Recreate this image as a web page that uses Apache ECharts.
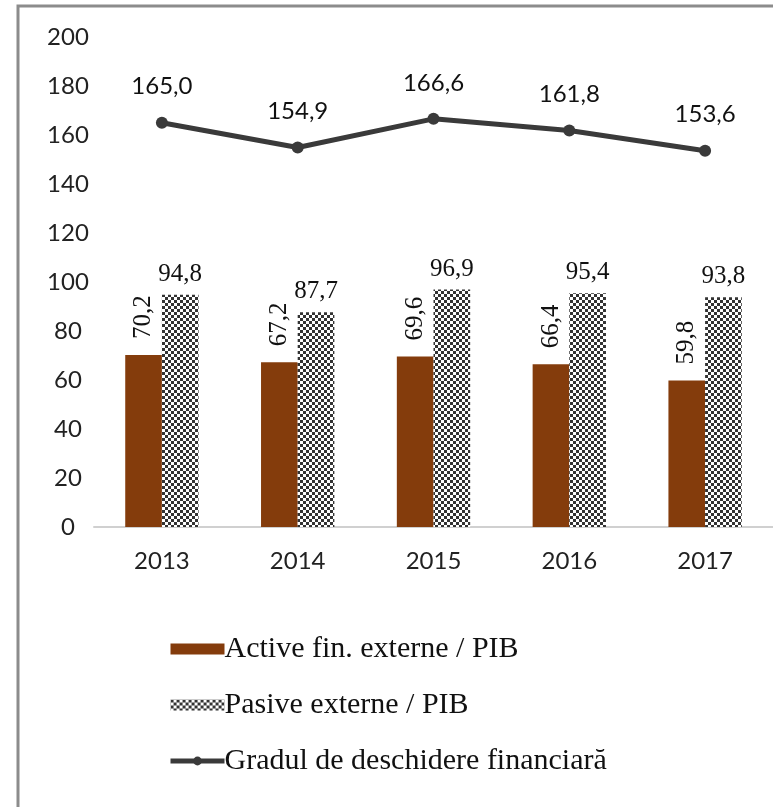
<!DOCTYPE html>
<html><head><meta charset="utf-8">
<script src="https://cdn.jsdelivr.net/npm/echarts@6/dist/echarts.min.js"></script>
<style>html,body{margin:0;padding:0;background:#fff}#c{width:773px;height:807px}</style>
</head><body><div id="c"></div>
<script>
const categories = ['2013','2014','2015','2016','2017'];
const activeValues = [70.2, 67.2, 69.6, 66.4, 59.8];
const pasiveValues = [94.8, 87.7, 96.9, 95.4, 93.8];
const gradValues = [165.0, 154.9, 166.6, 161.8, 153.6];
const yTicks = {min: 0, max: 200, interval: 20};
const seriesNames = ['Active fin. externe / PIB', 'Pasive externe / PIB', 'Gradul de deschidere financiară'];

const pat = document.createElement('canvas');
pat.width = 6; pat.height = 6;
const pc = pat.getContext('2d');
pc.fillStyle = '#fff'; pc.fillRect(0,0,6,6);
pc.fillStyle = '#333'; pc.fillRect(0,0,3,3); pc.fillRect(3,3,3,3);

const fmt = p => p.value.toFixed(1).replace('.', ',');
const chart = echarts.init(document.getElementById('c'));
chart.setOption({
  animation: false,
  backgroundColor: '#fff',
  graphic: [{type:'rect', shape:{x:18, y:6, width:800, height:850}, style:{fill:'none', stroke:'#8c8c8c', lineWidth:3}, z:-1}],
  grid: {left: 94, top: 37, width: 687, height: 490},
  legend: {
    orient: 'vertical', left: 163, top: 629, itemGap: 26, itemWidth: 54, itemHeight: 11,
    textStyle: {fontFamily: 'Liberation Serif', fontSize: 30, color: '#111', padding:[0,0,0,-5]},
    data: [
      {name: seriesNames[0], icon: 'rect'},
      {name: seriesNames[1], icon: 'rect'},
      {name: seriesNames[2], lineStyle: {width: 5}}
    ]
  },
  xAxis: {
    type: 'category', data: categories,
    axisLine: {lineStyle: {color: '#d0d0d0', width: 2}},
    axisTick: {show: false},
    axisLabel: {fontFamily: 'Lato', fontSize: 24, color: '#222', margin: 22}
  },
  yAxis: {
    type: 'value', min: yTicks.min, max: yTicks.max, interval: yTicks.interval,
    splitLine: {show: false}, axisLine: {show: false}, axisTick: {show: false},
    axisLabel: {fontFamily: 'Lato', fontSize: 24, color: '#222', margin: 26, align: 'center'}
  },
  series: [
    {name: seriesNames[0], type: 'bar', data: activeValues, barGap: '0%', barCategoryGap: '46%',
     itemStyle: {color: '#843C0C'},
     label: {show: true, position: 'top', rotate: 90, align: 'left', verticalAlign: 'middle', distance: 16,
             formatter: fmt, fontFamily: 'Liberation Serif', fontSize: 25, color: '#111'}},
    {name: seriesNames[1], type: 'bar', data: pasiveValues,
     itemStyle: {color: {image: pat, repeat: 'repeat'}},
     label: {show: true, position: 'top', distance: 8, formatter: fmt, fontFamily: 'Liberation Serif', fontSize: 25, color: '#111'}},
    {name: seriesNames[2], type: 'line', data: gradValues, symbol: 'circle', symbolSize: 12,
     itemStyle: {color: '#3a3a3a'}, lineStyle: {color: '#3a3a3a', width: 5},
     label: {show: true, position: 'top', distance: 18, formatter: fmt, fontFamily: 'Lato', fontSize: 24, color: '#111'}}
  ]
});
</script></body></html>
